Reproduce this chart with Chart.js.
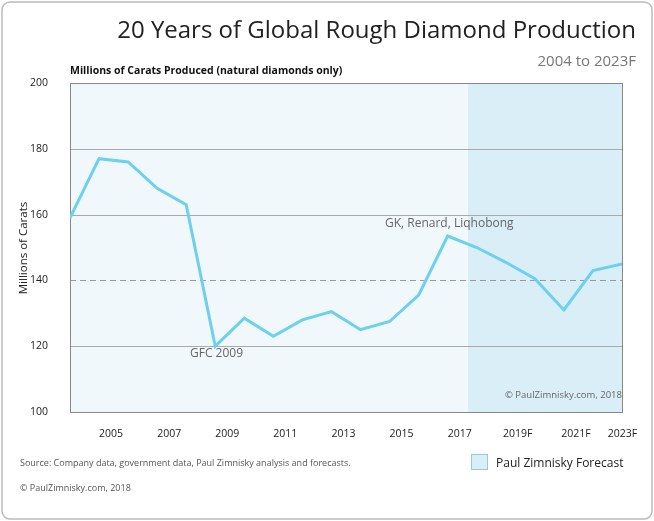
<!DOCTYPE html><html><head><style>body{margin:0;background:#fff}#w{width:654px;height:521px}</style>
<script src="https://cdn.jsdelivr.net/npm/chart.js@4"></script></head><body><div id="w"><canvas id="c"></canvas></div><script>
const years=[2004,2005,2006,2007,2008,2009,2010,2011,2012,2013,2014,2015,2016,2017,2018,2019,2020,2021,2022,2023];
const production=[159,177,176,168,163,120,128.5,123,128,130.5,125,127.5,135.5,153.5,150,145.5,140.5,131,143,145];
const tickYears=[2005,2007,2009,2011,2013,2015,2017,2019,2021,2022.6];
const tickLabels=['2005','2007','2009','2011','2013','2015','2017','2019F','2021F','2023F'];
const forecastStart=2017.7;
const deco={id:'deco',
beforeDatasetsDraw(ch){const {ctx,chartArea:a,scales:{x,y}}=ch;ctx.save();
 ctx.fillStyle='#f0f8fc';ctx.fillRect(a.left,a.top,a.right-a.left,a.bottom-a.top);
 const fx=x.getPixelForValue(forecastStart);ctx.fillStyle='#d9eef7';ctx.fillRect(fx,a.top,a.right-fx,a.bottom-a.top);
 ctx.strokeStyle='#aaa';ctx.lineWidth=1;[120,160,180].forEach(v=>{const p=Math.round(y.getPixelForValue(v))+.5;ctx.beginPath();ctx.moveTo(a.left,p);ctx.lineTo(a.right,p);ctx.stroke();});
 ctx.strokeStyle='#999';ctx.setLineDash([6,4]);const p=Math.round(y.getPixelForValue(140))+.5;ctx.beginPath();ctx.moveTo(a.left,p);ctx.lineTo(a.right,p);ctx.stroke();ctx.setLineDash([]);
 ctx.strokeStyle='#888';ctx.strokeRect(a.left+.5,a.top+.5,a.right-a.left,a.bottom-a.top);
 ctx.restore();},
afterDraw(ch){const {ctx}=ch;ctx.save();
 ctx.fillStyle='#222';ctx.font='24px "Open Sans"';ctx.textAlign='right';ctx.textBaseline='alphabetic';ctx.fillText('20 Years of Global Rough Diamond Production',636,38);
 ctx.fillStyle='#777';ctx.font='15px "Open Sans"';ctx.fillText('2004 to 2023F',636,66);
 ctx.textAlign='left';ctx.fillStyle='#111';ctx.font='bold 10.5px "Open Sans"';ctx.fillText('Millions of Carats Produced (natural diamonds only)',70,74);
 ctx.fillStyle='#666';ctx.font='12px "Open Sans"';ctx.fillText('GFC 2009',190,357);ctx.fillText('GK, Renard, Liqhobong',385,227);
 ctx.font='9.5px "Open Sans"';ctx.fillText('© PaulZimnisky.com, 2018',505,398);
 ctx.fillStyle='#555';ctx.font='9px "Open Sans"';ctx.fillText('Source: Company data, government data, Paul Zimnisky analysis and forecasts.',20,466);ctx.fillText('© PaulZimnisky.com, 2018',20,491);
 ctx.fillStyle='#d9eef7';ctx.fillRect(471,454,17,16);ctx.strokeStyle='#9cc';ctx.strokeRect(471.5,454.5,16,15);
 ctx.fillStyle='#222';ctx.font='12px "Open Sans"';ctx.fillText('Paul Zimnisky Forecast',496,467);
 ctx.translate(27,248);ctx.rotate(-Math.PI/2);ctx.textAlign='center';ctx.font='11.5px "Open Sans"';ctx.fillText('Millions of Carats',0,0);ctx.restore();
 ctx.save();ctx.strokeStyle='#bbb';ctx.lineWidth=1.5;ctx.beginPath();ctx.roundRect(2,2,650,517,8);ctx.stroke();ctx.restore();}};
new Chart(document.getElementById('c'),{type:'line',
data:{datasets:[{data:years.map((v,i)=>({x:v,y:production[i]})),borderColor:'#6dd0ee',borderWidth:3,pointRadius:0,tension:0,borderJoinStyle:'miter'}]},
options:{responsive:true,maintainAspectRatio:false,animation:false,layout:{padding:{left:0,top:83,right:32,bottom:79}},
plugins:{legend:{display:false},tooltip:{enabled:false}},
scales:{x:{type:'linear',min:2004,max:2023,afterFit:s=>{s.height=30},afterBuildTicks:s=>{s.ticks=tickYears.map(v=>({value:v}))},
 grid:{display:false},border:{display:false},ticks:{labelOffset:12,padding:8,autoSkip:false,maxRotation:0,color:'#222',font:{family:'"Open Sans"',size:10.5},callback:(v,i)=>tickLabels[i]}},
y:{min:100,max:200,afterFit:s=>{s.width=70},grid:{display:false},border:{display:false},ticks:{stepSize:20,padding:14,color:'#222',font:{family:'"Open Sans"',size:10.5}}}}},
plugins:[deco]});
</script></body></html>
